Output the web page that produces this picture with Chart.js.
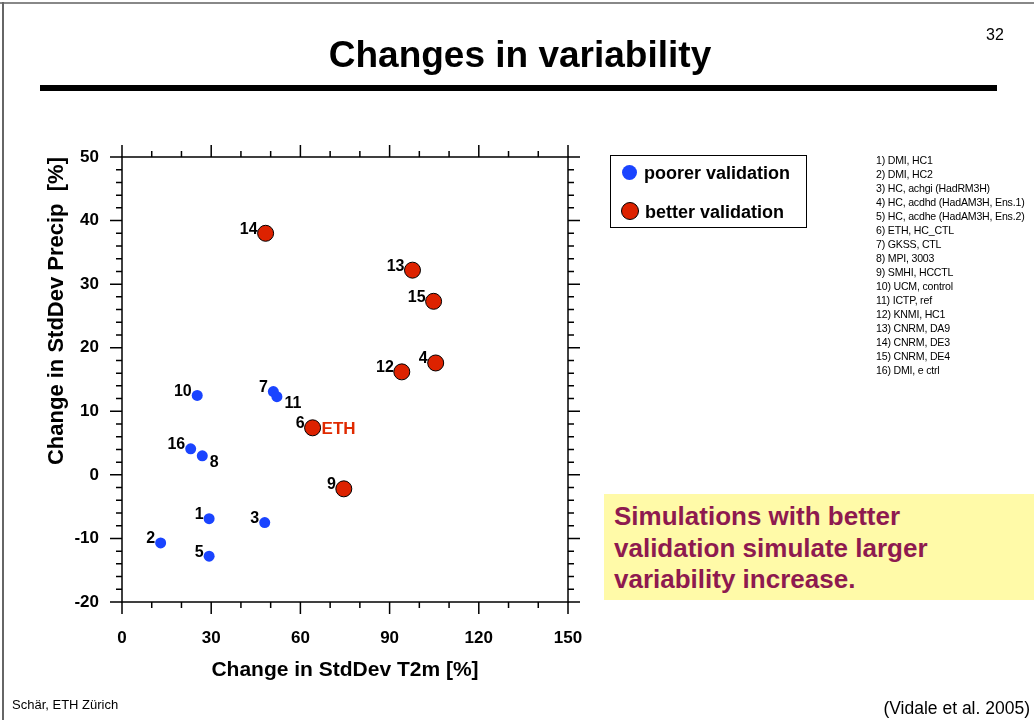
<!DOCTYPE html>
<html>
<head>
<meta charset="utf-8">
<script src="https://cdn.jsdelivr.net/npm/chart.js@4.4.1/dist/chart.umd.min.js"></script>
<style>
  html, body { margin: 0; padding: 0; background: #fff; }
  body { width: 1034px; height: 720px; position: relative; overflow: hidden;
         font-family: "Liberation Sans", Arial, Helvetica, sans-serif; }
  #wrap { position: absolute; left: 0; top: 0; width: 1034px; height: 720px; }
  .abs { position: absolute; white-space: nowrap; }
  #frameTop { left: 0; top: 2px; width: 1034px; height: 2px; background: #888; }
  #frameLeft { left: 2px; top: 2px; width: 2px; height: 718px; background: #666; }
  #title { left: 0; width: 1040px; top: 34px; text-align: center; font-weight: bold; font-size: 37px; }
  #pageNo { left: 986px; top: 26px; font-size: 16px; }
  #rule { left: 40px; top: 85px; width: 957px; height: 6px; background: #000; }
  #legend { left: 610px; top: 155px; width: 195px; height: 71px; border: 1px solid #000; }
  .item { position: absolute; left: 10px; font-weight: bold; font-size: 18px; line-height: 20px; }
  .dot { display: inline-block; vertical-align: middle; border-radius: 50%; margin-right: 6px; position: relative; top: -2px; }
  #models { left: 876px; top: 153px; font-size: 10.6px; line-height: 14px; letter-spacing: -0.2px; }
  #note { left: 604px; top: 494px; width: 430px; height: 106px; background: #fffaa8; }
  #note div { position: absolute; left: 10px; top: 7px; color: #8e1a4f; font-weight: bold; font-size: 26px; line-height: 31.5px; }
  #foot1 { left: 12px; top: 697px; font-size: 13px; }
  #foot2 { right: 4px; top: 698px; font-size: 17.5px; }
</style>
</head>
<body>
<div id="wrap"><canvas id="scatterChart" width="1034" height="720"></canvas></div>
<div class="abs" id="frameTop"></div>
<div class="abs" id="frameLeft"></div>
<div class="abs" id="title">Changes in variability</div>
<div class="abs" id="pageNo">32</div>
<div class="abs" id="rule"></div>
<div class="abs" id="legend">
  <div class="item" style="top:7px"><span class="dot" style="width:15px;height:15px;background:#1a44ff;margin-left:1px;margin-right:7px"></span>poorer validation</div>
  <div class="item" style="top:46px"><span class="dot" style="width:16px;height:16px;background:#dd2200;border:1px solid #000"></span>better validation</div>
</div>
<div class="abs" id="models"></div>
<div class="abs" id="note"><div>Simulations with better<br>validation simulate larger<br>variability increase.</div></div>
<div class="abs" id="foot1">Schär, ETH Zürich</div>
<div class="abs" id="foot2">(Vidale et al. 2005)</div>

<script>
// model list (legend on the right)
const modelNames = [
  "1) DMI, HC1", "2) DMI, HC2", "3) HC, achgi (HadRM3H)",
  "4) HC, acdhd (HadAM3H, Ens.1)", "5) HC, acdhe (HadAM3H, Ens.2)",
  "6) ETH, HC_CTL", "7) GKSS, CTL", "8) MPI, 3003", "9) SMHI, HCCTL",
  "10) UCM, control", "11) ICTP, ref", "12) KNMI, HC1", "13) CNRM, DA9",
  "14) CNRM, DE3", "15) CNRM, DE4", "16) DMI, e  ctrl"
];

// poorer validation (blue)
const poorerIds = [1, 2, 3, 5, 7, 8, 10, 11, 16];
const poorerT2m = [29.3, 13.0, 48.0, 29.3, 50.9, 27.0, 25.3, 52.1, 23.1];
const poorerPrecip = [-6.9, -10.7, -7.5, -12.8, 13.1, 3.0, 12.5, 12.3, 4.1];

// better validation (red)
const betterIds = [4, 6, 9, 12, 13, 14, 15];
const betterT2m = [105.5, 64.1, 74.6, 94.1, 97.7, 48.3, 104.8];
const betterPrecip = [17.6, 7.4, -2.2, 16.2, 32.2, 38.0, 27.3];

const xTicks = [0, 30, 60, 90, 120, 150];
const yTicks = [-20, -10, 0, 10, 20, 30, 40, 50];

document.getElementById("models").innerHTML = modelNames.join("<br>");

const FONT = '"Liberation Sans", Arial, Helvetica, sans-serif';

function toPoints(xs, ys, ids) {
  return xs.map(function (x, i) { return { x: x, y: ys[i], id: ids[i] }; });
}

// outward ticks on all four sides + frame
const frameTicks = {
  id: "frameTicks",
  afterDraw: function (chart) {
    const c = chart.ctx, a = chart.chartArea;
    const xs = chart.scales.x, ys = chart.scales.y;
    c.save();
    c.strokeStyle = "#000";
    c.lineWidth = 1.5;
    c.strokeRect(a.left, a.top, a.right - a.left, a.bottom - a.top);
    c.beginPath();
    for (let v = xs.min; v <= xs.max; v += 10) {
      const px = xs.getPixelForValue(v);
      const len = v % 30 === 0 ? 12 : 6;
      c.moveTo(px, a.bottom); c.lineTo(px, a.bottom + len);
      c.moveTo(px, a.top); c.lineTo(px, a.top - len);
    }
    for (let v = ys.min; v <= ys.max; v += 2) {
      const py = ys.getPixelForValue(v);
      const len = v % 10 === 0 ? 12 : 6;
      c.moveTo(a.left, py); c.lineTo(a.left - len, py);
      c.moveTo(a.right, py); c.lineTo(a.right + len, py);
    }
    c.stroke();
    c.restore();
  }
};

// number labels next to each model point
const rightSide = [8, 11];
const pointLabels = {
  id: "pointLabels",
  afterDatasetsDraw: function (chart) {
    const c = chart.ctx;
    c.save();
    c.font = "bold 16px " + FONT;
    c.textBaseline = "middle";
    chart.data.datasets.forEach(function (ds, di) {
      const meta = chart.getDatasetMeta(di);
      const r = ds.pointRadius + 1;
      meta.data.forEach(function (el, i) {
        const id = ds.data[i].id;
        c.fillStyle = "#000";
        if (rightSide.indexOf(id) >= 0) {
          c.textAlign = "left";
          c.fillText(String(id), el.x + r + 1, el.y + 7);
        } else {
          c.textAlign = "right";
          c.fillText(String(id), el.x - r + 1, el.y - 4);
        }
        if (id === 6) {
          c.textAlign = "left";
          c.fillStyle = "#e02a00";
          c.font = "bold 17px " + FONT;
          c.fillText("ETH", el.x + r, el.y + 1);
          c.font = "bold 16px " + FONT;
        }
      });
    });
    c.restore();
  }
};

const ctx = document.getElementById("scatterChart");
new Chart(ctx, {
  type: "scatter",
  data: {
    datasets: [
      {
        label: "poorer validation",
        data: toPoints(poorerT2m, poorerPrecip, poorerIds),
        pointRadius: 5.5,
        pointHoverRadius: 5.5,
        backgroundColor: "#1a44ff",
        borderWidth: 0,
      },
      {
        label: "better validation",
        data: toPoints(betterT2m, betterPrecip, betterIds),
        pointRadius: 8,
        pointHoverRadius: 8,
        backgroundColor: "#dd2200",
        borderColor: "#000",
        borderWidth: 1,
      },
    ],
  },
  options: {
    responsive: false,
    animation: false,
    layout: { padding: { left: 0, right: 466, top: 157, bottom: 0 } },
    scales: {
      x: {
        type: "linear",
        min: 0,
        max: 150,
        afterFit: function (s) { s.height = 118; },
        afterBuildTicks: function (s) { s.ticks = xTicks.map(function (v) { return { value: v }; }); },
        ticks: { color: "#000", padding: 26, font: { family: FONT, size: 17, weight: "bold" } },
        grid: { display: false, drawTicks: false },
        border: { display: false },
        title: {
          display: true,
          text: "Change in StdDev T2m [%]",
          color: "#000",
          font: { family: FONT, size: 21, weight: "bold" },
          padding: { top: 0, bottom: 37 },
        },
      },
      y: {
        type: "linear",
        min: -20,
        max: 50,
        afterFit: function (s) { s.width = 122; },
        afterBuildTicks: function (s) { s.ticks = yTicks.map(function (v) { return { value: v }; }); },
        ticks: { color: "#000", padding: 23, font: { family: FONT, size: 17, weight: "bold" } },
        grid: { display: false, drawTicks: false },
        border: { display: false },
        title: {
          display: true,
          text: "Change in StdDev Precip  [%]",
          align: "end",
          color: "#000",
          font: { family: FONT, size: 22, weight: "bold" },
          padding: { top: 44, bottom: 0 },
        },
      },
    },
    plugins: {
      legend: { display: false },
      tooltip: { enabled: false },
    },
  },
  plugins: [frameTicks, pointLabels],
});
</script>
</body>
</html>
